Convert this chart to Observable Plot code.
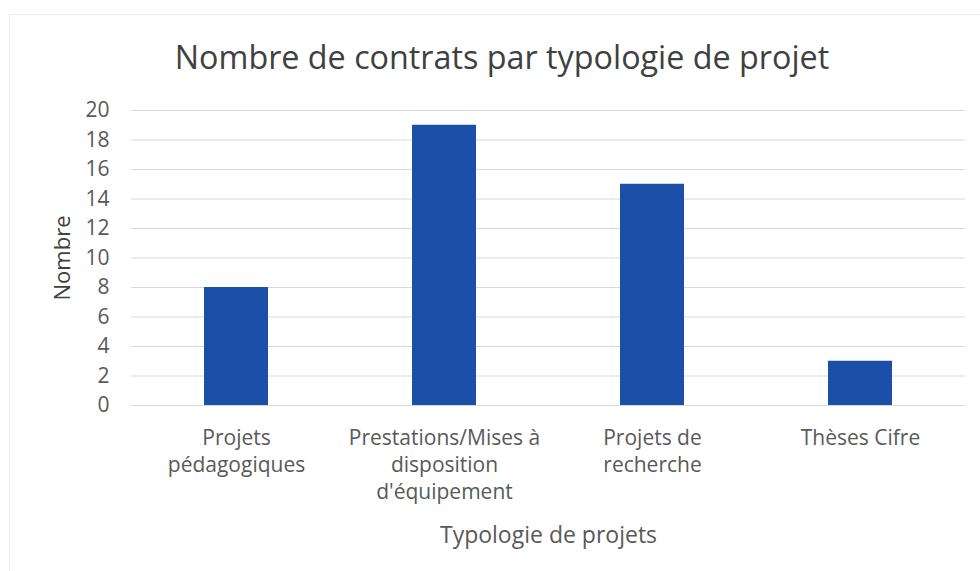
<!DOCTYPE html>
<html>
<head>
<meta charset="utf-8">
<script src="https://cdn.jsdelivr.net/npm/d3@7"></script>
<script src="https://cdn.jsdelivr.net/npm/@observablehq/plot@0.6"></script>
<style>
  html, body { margin: 0; padding: 0; background: #fff; }
  #wrap { position: relative; width: 980px; height: 571px; overflow: hidden; font-family: "Open Sans", sans-serif; }
  #frame { position: absolute; left: 9px; top: 14px; width: 1000px; height: 600px; border: 1px solid #ececec; box-sizing: border-box; }
  #title { position: absolute; left: 0; top: 0; width: 1004px; height: 112px; line-height: 112px; text-align: center; font-size: 32.3px; color: #404040; white-space: nowrap; }
  #chart { position: absolute; left: 0; top: 90px; }
</style>
</head>
<body>
<div id="wrap">
  <div id="frame"></div>
  <div id="title">Nombre de contrats par typologie de projet</div>
  <div id="chart"></div>
</div>
<script>
const categories = ["Projets pédagogiques", "Prestations/Mises à disposition d'équipement", "Projets de recherche", "Thèses Cifre"];
const labels = ["Projets\npédagogiques", "Prestations/Mises à\ndisposition\nd'équipement", "Projets de\nrecherche", "Thèses Cifre"];
const values = [8, 19, 15, 3];
const yTicks = [0, 2, 4, 6, 8, 10, 12, 14, 16, 18, 20];

const data = categories.map((c, i) => ({category: c, label: labels[i], value: values[i]}));

const plot = Plot.plot({
  width: 980,
  height: 481,
  marginLeft: 131,
  marginRight: 15,
  marginTop: 20,
  marginBottom: 166,
  style: {fontFamily: "'Open Sans', sans-serif", color: "#595959", background: "transparent"},
  x: {domain: categories, paddingInner: 0.69, paddingOuter: 0.345, axis: null},
  y: {domain: [0, 20], ticks: yTicks, axis: null},
  marks: [
    Plot.gridY(yTicks.slice(1), {stroke: "#d9d9d9", strokeOpacity: 1, strokeWidth: 1}),
    Plot.ruleY([0], {stroke: "#d9d9d9", strokeWidth: 1}),
    Plot.barY(data, {x: "category", y: "value", fill: "#1c50a8"}),
    Plot.axisY(yTicks, {tickSize: 0, tickPadding: 22, fontSize: 21, fill: "#595959", label: null}),
    Plot.text(data, {x: "category", y: 0, text: "label", dy: 20, lineAnchor: "top", lineHeight: 1.29, fontSize: 21, fill: "#595959"}),
    Plot.text(["Typologie de projets"], {frameAnchor: "bottom", lineAnchor: "middle", dy: 130, fontSize: 23, fill: "#595959"}),
    Plot.text(["Nombre"], {frameAnchor: "left", textAnchor: "middle", dx: -69, rotate: -90, fontSize: 22, fill: "#404040"})
  ]
});
document.getElementById("chart").appendChild(plot);
</script>
</body>
</html>
